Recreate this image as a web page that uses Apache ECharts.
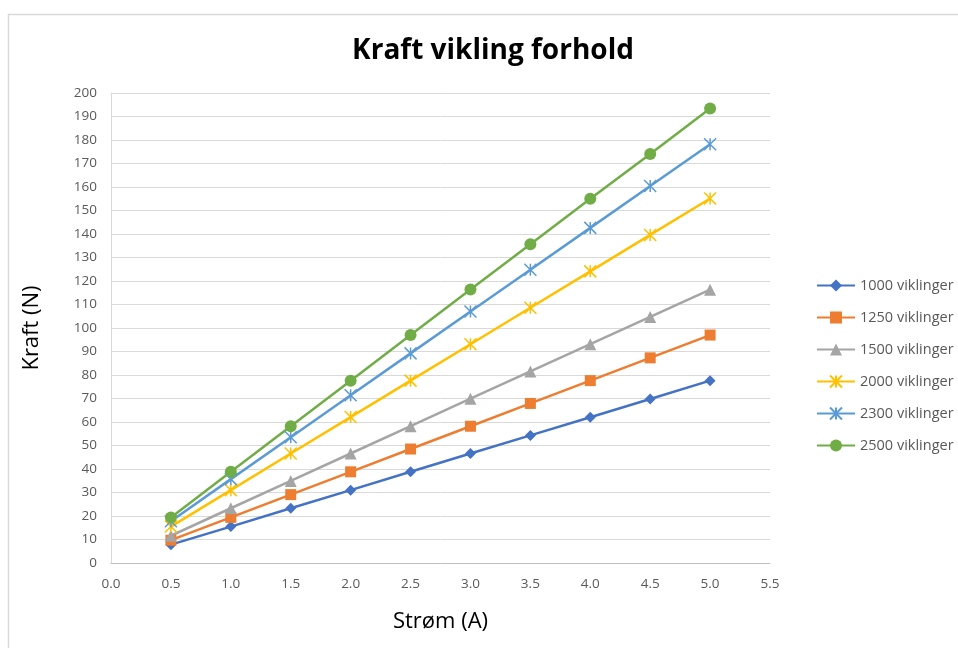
<!DOCTYPE html>
<html>
<head>
<meta charset="utf-8">
<script src="https://cdn.jsdelivr.net/npm/echarts@6/dist/echarts.min.js"></script>
<style>
  html, body { margin: 0; padding: 0; background: #fff; }
  #chart { width: 958px; height: 648px; }
</style>
</head>
<body>
<div id="chart"></div>
<script>
// Current (A) on the x axis
const current = [0.5, 1.0, 1.5, 2.0, 2.5, 3.0, 3.5, 4.0, 4.5, 5.0];

// Force (N) for each winding count
const names = ['1000 viklinger', '1250 viklinger', '1500 viklinger', '2000 viklinger', '2300 viklinger', '2500 viklinger'];
const force1000 = [7.8, 15.5, 23.3, 31.0, 38.8, 46.6, 54.3, 62.0, 69.8, 77.6];
const force1250 = [9.7, 19.4, 29.1, 38.8, 48.5, 58.2, 67.9, 77.6, 87.3, 97.0];
const force1500 = [11.6, 23.3, 34.9, 46.6, 58.2, 69.9, 81.5, 93.1, 104.7, 116.3];
const force2000 = [15.5, 31.0, 46.6, 62.1, 77.6, 93.1, 108.6, 124.1, 139.6, 155.1];
const force2300 = [17.8, 35.7, 53.5, 71.4, 89.2, 107.0, 124.8, 142.6, 160.4, 178.2];
const force2500 = [19.4, 38.8, 58.2, 77.6, 97.0, 116.4, 135.6, 155.0, 174.0, 193.4];

const seriesValues = [force1000, force1250, force1500, force2000, force2300, force2500];
const colors = ['#4472C4', '#ED7D31', '#A5A5A5', '#FFC000', '#5B9BD5', '#70AD47'];

const asterisk = 'path://M0,0L10,10M10,0L0,10M5,0L5,10';
const symbols = ['diamond', 'rect', 'triangle', asterisk, asterisk, 'circle'];
const symbolSizes = [11, 11, 12, 12, 12, 12];

const series = names.map((name, i) => ({
  name: name,
  type: 'line',
  data: current.map((x, j) => [x, seriesValues[i][j]]),
  symbol: symbols[i],
  symbolSize: symbolSizes[i],
  showAllSymbol: true,
  lineStyle: { color: colors[i], width: 2.5 },
  itemStyle: {
    color: colors[i],
    borderColor: colors[i],
    borderWidth: (i === 3 || i === 4) ? 1.5 : 0
  },
  emphasis: { disabled: true },
  animation: false
}));

const chart = echarts.init(document.getElementById('chart'), null, { renderer: 'canvas' });
chart.setOption({
  backgroundColor: '#ffffff',
  animation: false,
  textStyle: { fontFamily: 'Open Sans, Liberation Sans, sans-serif' },
  graphic: [{
    type: 'rect',
    shape: { x: 8.5, y: 14.5, width: 1000, height: 700 },
    style: { fill: 'none', stroke: '#d9d9d9', lineWidth: 1.5 },
    silent: true
  }],
  title: {
    text: 'Kraft vikling forhold',
    left: 488,
    top: 32,
    textAlign: 'center',
    textStyle: { fontSize: 28, fontWeight: 'bold', color: '#000', fontFamily: 'Open Sans, sans-serif' }
  },
  legend: {
    orient: 'vertical',
    left: 811,
    top: 273,
    itemGap: 17,
    itemWidth: 38,
    itemHeight: 15,
    data: names,
    textStyle: { fontSize: 14.5, color: '#595959', fontFamily: 'Open Sans, sans-serif' }
  },
  grid: { left: 111, right: 188, top: 93, bottom: 85, containLabel: false },
  xAxis: {
    type: 'value',
    min: 0,
    max: 5.5,
    interval: 0.5,
    name: 'Strøm (A)',
    nameLocation: 'middle',
    nameGap: 48,
    nameTextStyle: { fontSize: 22, color: '#000' },
    axisLine: { lineStyle: { color: '#bfbfbf' } },
    axisTick: { show: false },
    splitLine: { show: false },
    axisLabel: {
      color: '#595959', fontSize: 13.5, margin: 14,
      formatter: v => v.toFixed(1)
    }
  },
  yAxis: {
    type: 'value',
    min: 0,
    max: 200,
    interval: 10,
    name: 'Kraft (N)',
    nameLocation: 'middle',
    nameGap: 68,
    nameTextStyle: { fontSize: 22, color: '#000' },
    axisLine: { show: true, lineStyle: { color: '#d9d9d9' } },
    axisTick: { show: false },
    splitLine: { lineStyle: { color: '#d9d9d9', width: 1 } },
    axisLabel: { color: '#595959', fontSize: 13.5, margin: 14 }
  },
  series: series
});
</script>
</body>
</html>
